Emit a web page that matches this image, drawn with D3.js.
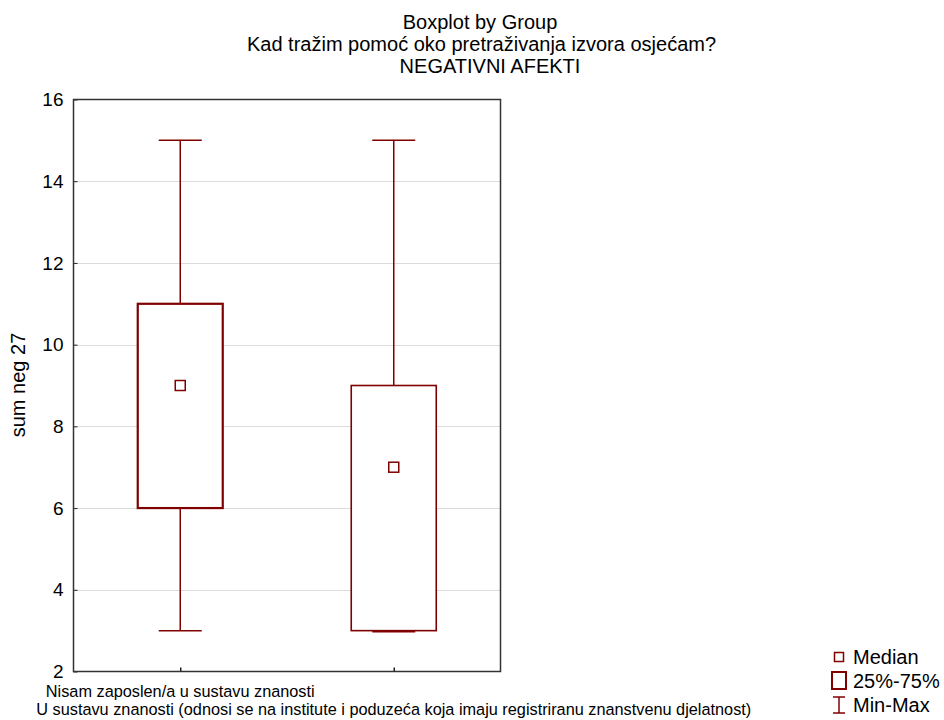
<!DOCTYPE html>
<html><head><meta charset="utf-8">
<script src="https://cdn.jsdelivr.net/npm/d3@7"></script>
<style>body{margin:0;background:#fff;} svg{display:block;font-family:"Liberation Sans",Arial,sans-serif;}</style>
</head><body>
<script>
const categories = ["Nisam zaposlen/a u sustavu znanosti",
  "U sustavu znanosti (odnosi se na institute i poduzeća koja imaju registriranu znanstvenu djelatnost)"];
const minValues = [3, 3];
const q1Values = [6, 3];
const medianValues = [9, 7];
const q3Values = [11, 9];
const maxValues = [15, 15];
const yTicks = [2, 4, 6, 8, 10, 12, 14, 16];
const titleLines = ["Boxplot by Group", "Kad tražim pomoć oko pretraživanja izvora osjećam?", "NEGATIVNI AFEKTI"];
const legendItems = ["Median", "25%-75%", "Min-Max"];

const W = 944, H = 720;
const plot = {left: 73.5, right: 500.5, top: 99.5, bottom: 671.5};
const col = "#800000";

const svg = d3.select("body").append("svg").attr("width", W).attr("height", H);

const y = d3.scaleLinear().domain([2, 16]).range([plot.bottom, plot.top]);
const x = d3.scalePoint().domain(categories).range([plot.left, plot.right]).padding(0.5);

// gridlines
svg.append("g").selectAll("line").data(yTicks.filter(t => t > 2 && t < 16)).join("line")
  .attr("x1", plot.left).attr("x2", plot.right)
  .attr("y1", d => Math.round(y(d)) + 0.5).attr("y2", d => Math.round(y(d)) + 0.5)
  .attr("stroke", "#dcdcdc").attr("stroke-width", 1);

// axes
const yAxis = d3.axisLeft(y).tickValues(yTicks).tickSizeInner(-4).tickSizeOuter(0).tickPadding(10);
const gy = svg.append("g").attr("transform", `translate(${plot.left},0)`).call(yAxis);
gy.select(".domain").remove();
gy.selectAll(".tick line").attr("stroke", "#222");
gy.selectAll("text").attr("font-size", 19).attr("fill", "#000").attr("font-family", '"Liberation Sans",Arial,sans-serif');

const xAxis = d3.axisBottom(x).tickSizeInner(-4).tickSizeOuter(0).tickFormat("");
const gx = svg.append("g").attr("transform", `translate(0,${plot.bottom})`).call(xAxis);
gx.select(".domain").remove();
gx.selectAll(".tick line").attr("stroke", "#222").attr("stroke-width", 1.5);

// frame
svg.append("rect").attr("x", plot.left).attr("y", plot.top)
  .attr("width", plot.right - plot.left).attr("height", plot.bottom - plot.top)
  .attr("fill", "none").attr("stroke", "#333").attr("stroke-width", 1.5);

// category labels
categories.forEach((c, i) => {
  svg.append("text").attr("x", x(c)).attr("y", i === 0 ? 697 : 715)
    .attr("text-anchor", "middle").attr("font-size", 16.3).text(c);
});

// boxes
const boxW = 85, capW = 43;
const g = svg.append("g");
categories.forEach((c, i) => {
  const cx = x(c);
  const sw = i === 0 ? 2.2 : 1.6;
  g.append("line").attr("x1", cx).attr("x2", cx).attr("y1", y(maxValues[i])).attr("y2", y(q3Values[i]))
    .attr("stroke", col).attr("stroke-width", 1.5);
  g.append("line").attr("x1", cx - capW/2).attr("x2", cx + capW/2).attr("y1", y(maxValues[i])).attr("y2", y(maxValues[i]))
    .attr("stroke", col).attr("stroke-width", 1.5);
  g.append("line").attr("x1", cx).attr("x2", cx).attr("y1", y(minValues[i])).attr("y2", y(q1Values[i]))
    .attr("stroke", col).attr("stroke-width", 1.5);
  g.append("line").attr("x1", cx - capW/2).attr("x2", cx + capW/2).attr("y1", y(minValues[i]) + (i === 1 ? 1 : 0)).attr("y2", y(minValues[i]) + (i === 1 ? 1 : 0))
    .attr("stroke", col).attr("stroke-width", 1.5);
  g.append("rect").attr("x", cx - boxW/2).attr("y", y(q3Values[i]))
    .attr("width", boxW).attr("height", y(q1Values[i]) - y(q3Values[i]))
    .attr("fill", "#fff").attr("stroke", col).attr("stroke-width", sw);
  g.append("rect").attr("x", cx - 5).attr("y", y(medianValues[i]) - 5)
    .attr("width", 10).attr("height", 10).attr("fill", "#fff").attr("stroke", col).attr("stroke-width", 1.5);
});

// title
const titleX = [480, 481.5, 490];
titleLines.forEach((t, i) => {
  svg.append("text").attr("x", titleX[i]).attr("y", 29 + i * 22).attr("text-anchor", "middle")
    .attr("font-size", 20).text(t);
});

// y label
svg.append("text").attr("transform", "translate(25,385) rotate(-90)")
  .attr("text-anchor", "middle").attr("font-size", 20).text("sum neg 27");

// legend
const lg = svg.append("g");
const lx = 839;
lg.append("rect").attr("x", lx - 4.5).attr("y", 652.5).attr("width", 9).attr("height", 9)
  .attr("fill", "#fff").attr("stroke", col).attr("stroke-width", 1.5);
lg.append("rect").attr("x", lx - 7).attr("y", 672).attr("width", 14).attr("height", 17)
  .attr("fill", "#fff").attr("stroke", col).attr("stroke-width", 2);
lg.append("line").attr("x1", lx - 6).attr("x2", lx + 6).attr("y1", 697).attr("y2", 697).attr("stroke", col).attr("stroke-width", 1.5);
lg.append("line").attr("x1", lx - 6).attr("x2", lx + 6).attr("y1", 713).attr("y2", 713).attr("stroke", col).attr("stroke-width", 1.5);
lg.append("line").attr("x1", lx).attr("x2", lx).attr("y1", 697).attr("y2", 713).attr("stroke", col).attr("stroke-width", 1.5);
legendItems.forEach((t, i) => {
  lg.append("text").attr("x", 853).attr("y", 664 + i * 24).attr("font-size", 20).text(t);
});
</script>
</body></html>
